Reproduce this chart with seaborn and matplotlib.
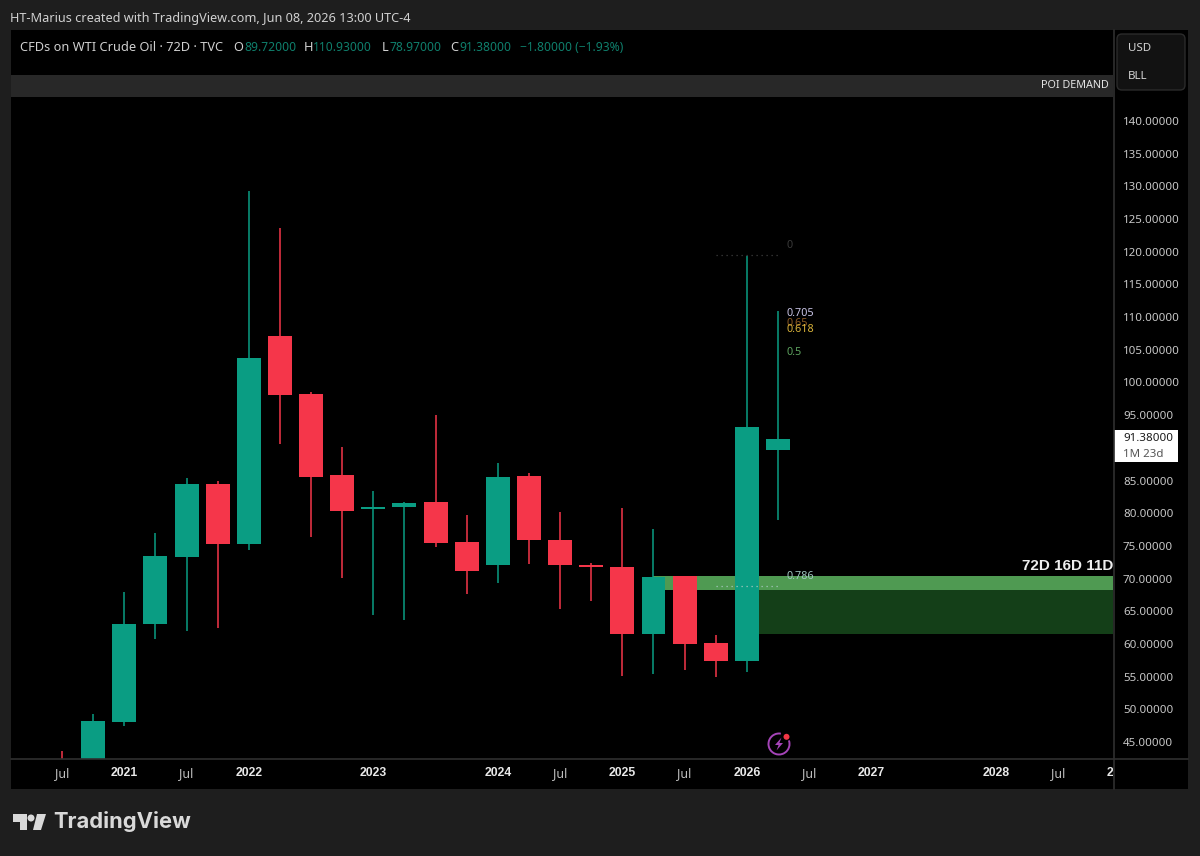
import matplotlib
matplotlib.use("Agg")
import matplotlib.pyplot as plt
from matplotlib.patches import Rectangle, FancyBboxPatch, Polygon, Circle, Arc
import numpy as np
import pandas as pd
import seaborn as sns

# 72-day candles of WTI crude, oldest first
opens = [41.5, 40.0, 48.1, 63.0, 73.3, 84.5, 75.3, 107.1, 98.2, 85.8, 80.6, 81.0, 81.7, 75.6,
         72.1, 85.7, 75.9, 72.1, 71.8, 61.5, 70.4, 60.1, 57.4, 89.72]
highs = [43.7, 49.3, 68.0, 77.0, 85.4, 85.0, 129.3, 123.6, 98.5, 90.1, 83.4, 81.7, 95.0, 79.7,
         87.7, 86.1, 80.2, 72.4, 80.8, 77.6, 70.4, 61.4, 119.4, 110.93]
lows = [38.0, 39.0, 47.4, 60.7, 62.0, 62.5, 74.4, 90.6, 76.3, 70.1, 64.4, 63.7, 74.8, 67.6,
        69.3, 72.2, 65.4, 66.6, 55.1, 55.4, 56.0, 54.9, 55.7, 78.97]
closes = [40.0, 48.2, 63.1, 73.5, 84.5, 75.3, 103.7, 98.1, 85.5, 80.3, 80.9, 81.6, 75.4, 71.2,
          85.5, 75.9, 72.1, 71.8, 61.5, 70.2, 60.0, 57.4, 93.18, 91.38]

price_ticks = list(range(45, 145, 5))
time_tick_pos = [0, 2, 4, 6, 10, 14, 16, 18, 20, 22, 24, 26, 30, 32]
time_tick_txt = ["Jul", "2021", "Jul", "2022", "2023", "2024", "Jul", "2025", "Jul", "2026",
                 "Jul", "2027", "2028", "Jul"]

demand_top, demand_mid, demand_low = 70.4, 68.2, 61.5
zone_light_start, zone_dark_start = 19, 22

fib_labels = ["0", "0.705", "0.65", "0.618", "0.5", "0.786"]
fib_prices = [120.9, 110.6, 109.0, 108.1, 104.6, 70.3]
fib_colors = ["#3a3a3a", "#c9c4e6", "#8c5a24", "#d8b23a", "#5da35f", "#9fc7c0"]
dotted_prices = [119.5, 68.9]
dotted_colors = ["#3f3f3f", "#a8c8bf"]

UP, DOWN = "#0a9d83", "#f5364a"
BG, PANEL, BAND, LINE = "#1e1e1e", "#000000", "#282828", "#2f2f2f"
YEAR_FONT = "Liberation Sans"
W, H = 1200, 856

sns.set_theme(style="dark")
plt.rcParams["font.family"] = ["Noto Sans", "DejaVu Sans"]

fig = plt.figure(figsize=(W / 100, H / 100), dpi=100, facecolor=BG)


def frame(x0, y0, x1, y1):
    # Figure rectangle from top-left based pixel edges
    return [x0 / W, 1 - y1 / H, (x1 - x0) / W, (y1 - y0) / H]


# Backdrop holding the window chrome, in pixel units
back = fig.add_axes([0, 0, 1, 1], zorder=0)
back.set_xlim(0, W)
back.set_ylim(H, 0)
back.axis("off")
back.add_patch(Rectangle((11, 30), 1177, 759, fc=PANEL, ec="none"))
back.add_patch(Rectangle((11, 75), 1102, 22, fc=BAND, ec="none"))

ax = fig.add_axes(frame(11, 97, 1113, 759), zorder=1, facecolor=PANEL)

candles = pd.DataFrame({"i": range(len(opens)), "o": opens, "h": highs, "l": lows, "c": closes})
candles["up"] = candles["c"] >= candles["o"]
candles["top"] = candles[["o", "c"]].max(axis=1)
candles["bot"] = candles[["o", "c"]].min(axis=1)

# Demand zone sits behind the candles
xmax = 33.76
ax.fill_between([zone_light_start, xmax], demand_mid, demand_top, color="#4f9a52", lw=0, zorder=0.5)
ax.fill_between([zone_dark_start, xmax], demand_low, demand_mid, color="#143f18", lw=0, zorder=0.5)

# Wicks as one short line per candle
wicks = candles.melt(id_vars=["i", "up"], value_vars=["h", "l"], value_name="price").sort_values(["i", "variable"])
for flag, colour in [(True, UP), (False, DOWN)]:
    sns.lineplot(data=wicks[wicks["up"] == flag], x="i", y="price", units="i", estimator=None,
                 color=colour, linewidth=1.1, ax=ax, zorder=2, legend=False, solid_capstyle="butt")

# Candle bodies
for flag, colour in [(True, UP), (False, DOWN)]:
    part = candles[candles["up"] == flag].sort_values("i")
    sns.barplot(x=part["i"].to_numpy(), y=(part["top"] - part["bot"]).to_numpy(), native_scale=True,
                bottom=part["bot"].to_numpy(), color=colour, saturation=1, width=0.77,
                errorbar=None, linewidth=0, ax=ax, zorder=3)

for price, colour in zip(dotted_prices, dotted_colors):
    ax.plot([21, 23], [price, price], color=colour, lw=0.9, ls=(0, (1, 3)), zorder=4)

for label, price, colour in zip(fib_labels, fib_prices, fib_colors):
    ax.text(23.27, price, label, color=colour, fontsize=7.8, va="center", ha="left", zorder=5)

ax.set_xlim(-1.638, xmax)
ax.set_ylim(42.4, 143.67)
ax.set_xlabel("")
ax.set_ylabel("")
for side in ax.spines.values():
    side.set_visible(False)
ax.grid(False)

ax.yaxis.tick_right()
ax.set_yticks(price_ticks)
ax.set_yticklabels([f"{p:.5f}" for p in price_ticks], color="#c8c8c8", fontsize=8.3)
ax.tick_params(axis="y", length=0, pad=7.2, right=False, left=False)

ax.set_xticks(time_tick_pos)
ax.set_xticklabels(time_tick_txt, fontsize=9)
ax.tick_params(axis="x", length=0, pad=5.8, bottom=False)
for tick in ax.get_xticklabels():
    if tick.get_text() != "Jul":
        tick.set_color("#e8e8e8")
        tick.set_fontfamily(YEAR_FONT)
        tick.set_fontweight("bold")
        tick.set_fontsize(8.8)
    else:
        tick.set_color("#bdbdbd")

ax.text(33.76, 70.9, "72D 16D 11D", color="#eeeeee", fontsize=11, fontweight="bold",
        family=YEAR_FONT, ha="right", va="bottom", zorder=5)

# Foreground chrome in pixel units
top = fig.add_axes([0, 0, 1, 1], zorder=2, facecolor="none")
top.set_xlim(0, W)
top.set_ylim(H, 0)
top.axis("off")

top.plot([1113.5, 1113.5], [30, 789], color=LINE, lw=1.2)
top.plot([11, 1188], [759, 759], color=LINE, lw=1.2)

# Time label cut off by the price scale
cut = top.text(1120.4, 773, "2029", color="#e8e8e8", fontsize=8.8, fontweight="bold",
               family=YEAR_FONT, ha="center", va="center", clip_on=True)
cut.set_clip_path(Rectangle((11, 760), 1102, 29, transform=top.transData))

top.text(10, 18, "HT-Marius created with TradingView.com, Jun 08, 2026 13:00 UTC-4",
         color="#d0d0d0", fontsize=9.15, va="center")

TEAL = "#0f7f6c"
INK = "#d0d0d0"
legend_parts = [
    (20, "CFDs on WTI Crude Oil · 72D · TVC", INK, 9.2),
    (233.5, "O", INK, 9.2), (244, "89.72000", TEAL, 8.7),
    (304, "H", INK, 9.2), (313, "110.93000", TEAL, 8.7),
    (382, "L", INK, 9.2), (389, "78.97000", TEAL, 8.7),
    (450, "C", INK, 9.2), (459, "91.38000", TEAL, 8.7),
    (520, "\u22121.80000 (\u22121.93%)", TEAL, 8.7),
]
for px, txt, colour, size in legend_parts:
    top.text(px, 47, txt, color=colour, fontsize=size, va="center")

top.text(1109, 85, "POI DEMAND", color="#e4e4e4", fontsize=7.8, ha="right", va="center")

top.add_patch(FancyBboxPatch((1121, 38), 60, 48, boxstyle="round,pad=4,rounding_size=5",
                             fc="#121212", ec="#2b2b2b", lw=1))
top.text(1128, 48, "USD", color="#d4d4d4", fontsize=8.3, va="center")
top.text(1128, 76, "BLL", color="#d4d4d4", fontsize=8.3, va="center")

# Last-price tag
top.add_patch(Rectangle((1114, 430), 64, 32, fc="#ffffff", ec="none"))
top.text(1123, 438.5, "91.38000", color="#1a1a1a", fontsize=8.3, va="center")
top.text(1123, 454, "1M 23d", color="#555555", fontsize=8.3, va="center")

# Alert badge
PURPLE = "#a544b8"
top.add_patch(Arc((779, 744), 21, 21, theta1=-20, theta2=280, color=PURPLE, lw=1.4))
top.add_patch(Polygon([(781.5, 737.5), (775, 745), (778.6, 745), (776.5, 750.5), (783, 743),
                       (779.4, 743)], closed=True, fc=PURPLE, ec="none"))
top.add_patch(Circle((786.5, 736.8), 3.0, fc="#f23645", ec="none"))

# Brand mark
LOGO = "#d9d9d9"
top.add_patch(Polygon([(13, 814), (27, 814), (27, 830), (20, 830), (20, 822), (13, 822)],
                      closed=True, fc=LOGO, ec="none"))
top.add_patch(Circle((31, 818), 3.5, fc=LOGO, ec="none"))
top.add_patch(Polygon([(37, 814), (46, 814), (41, 830), (33, 830)], closed=True, fc=LOGO, ec="none"))
top.text(53, 822, "TradingView", color=LOGO, fontsize=15.8, fontweight="bold",
         family="Inter", va="center")

fig.savefig("out.png", dpi=100, facecolor=BG)
